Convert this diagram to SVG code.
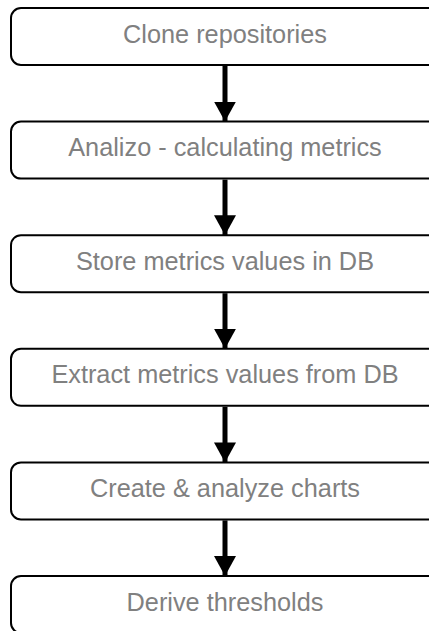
<svg xmlns="http://www.w3.org/2000/svg" width="429" height="631" viewBox="0 0 429 631">
<style>
.box{fill:#fff;stroke:#000;stroke-width:2}
.lbl{font-family:"Liberation Sans",Arial,sans-serif;font-size:25.3px;fill:#808080;text-anchor:middle}
.ln{stroke:#000;stroke-width:5;fill:none}
</style>
<defs>
<marker id="ah" markerUnits="userSpaceOnUse" markerWidth="24" markerHeight="22" refX="20" refY="11" orient="auto">
<path d="M0,0 L20,11 L0,22 Z" fill="#000"/>
</marker>
</defs>
<rect width="429" height="631" fill="#fff"/>
<g id="n1"><rect class="box" x="11" y="8" width="430" height="57" rx="10"/><text class="lbl" x="225" y="42.5">Clone repositories</text></g>
<g id="n2"><rect class="box" x="11" y="121.6" width="430" height="57" rx="10"/><text class="lbl" x="225" y="156.1">Analizo - calculating metrics</text></g>
<g id="n3"><rect class="box" x="11" y="235.2" width="430" height="57" rx="10"/><text class="lbl" x="225" y="269.7">Store metrics values in DB</text></g>
<g id="n4"><rect class="box" x="11" y="348.8" width="430" height="57" rx="10"/><text class="lbl" x="225" y="383.3">Extract metrics values from DB</text></g>
<g id="n5"><rect class="box" x="11" y="462.4" width="430" height="57" rx="10"/><text class="lbl" x="225" y="496.9">Create &amp; analyze charts</text></g>
<g id="n6"><rect class="box" x="11" y="576" width="430" height="57" rx="10"/><text class="lbl" x="225" y="610.5">Derive thresholds</text></g>
<g id="edges">
<line class="ln" x1="225" y1="66" x2="225" y2="121.6" marker-end="url(#ah)"/>
<line class="ln" x1="225" y1="179.6" x2="225" y2="235.2" marker-end="url(#ah)"/>
<line class="ln" x1="225" y1="293.2" x2="225" y2="348.8" marker-end="url(#ah)"/>
<line class="ln" x1="225" y1="406.8" x2="225" y2="462.4" marker-end="url(#ah)"/>
<line class="ln" x1="225" y1="520.4" x2="225" y2="576" marker-end="url(#ah)"/>
</g>
</svg>
